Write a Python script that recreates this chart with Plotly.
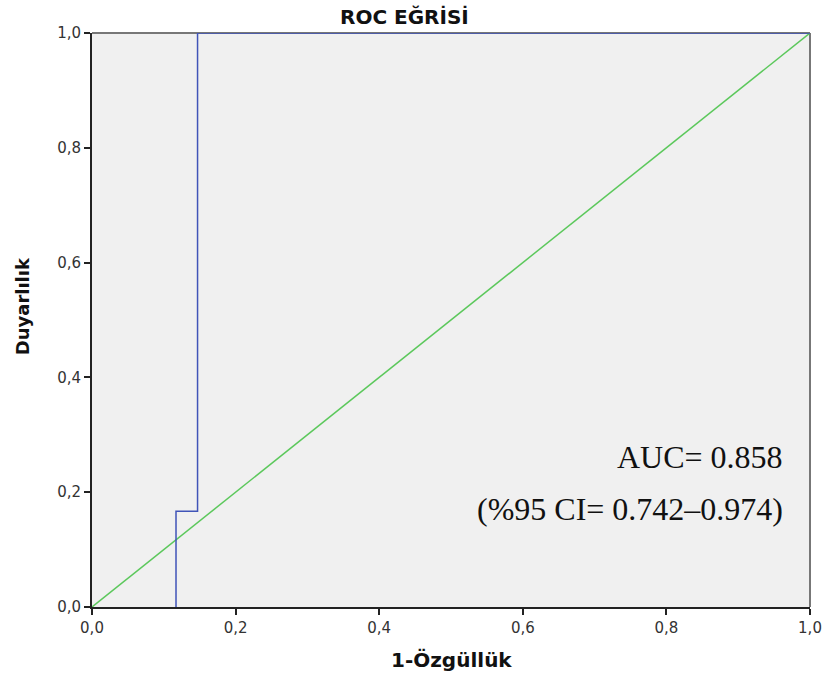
import plotly.graph_objects as go

# ROC curve points (1-specificity, sensitivity)
roc_x = [0.117, 0.117, 0.147, 0.147, 1.0]
roc_y = [0.0, 0.167, 0.167, 1.0, 1.0]
ref_x = [0.0, 1.0]
ref_y = [0.0, 1.0]
tick_vals = [0.0, 0.2, 0.4, 0.6, 0.8, 1.0]
tick_text = ["0,0", "0,2", "0,4", "0,6", "0,8", "1,0"]
auc_text = "AUC= 0.858"
ci_text = "(%95 CI= 0.742–0.974)"

fig = go.Figure()
fig.add_trace(go.Scatter(x=ref_x, y=ref_y, mode="lines",
                         line=dict(color="#5cc85c", width=1.5), showlegend=False))
fig.add_trace(go.Scatter(x=roc_x, y=roc_y, mode="lines",
                         line=dict(color="#4054b8", width=1.5), showlegend=False))

fig.update_layout(
    width=826, height=676,
    margin=dict(l=92, r=16, t=33, b=69),
    paper_bgcolor="white",
    plot_bgcolor="#f0f0f0",
    font=dict(family="DejaVu Sans, Liberation Sans, Arial", color="#222"),
    showlegend=False,
)
fig.update_xaxes(range=[0, 1], tickvals=tick_vals, ticktext=tick_text, automargin=False,
                 showgrid=False, zeroline=False, showline=True, linecolor="#222", linewidth=2,
                 ticks="outside", ticklen=6, tickwidth=2, tickcolor="#222",
                 tickfont=dict(size=15, color="#333"))
fig.update_yaxes(range=[0, 1], tickvals=tick_vals, ticktext=tick_text, automargin=False,
                 showgrid=False, zeroline=False, showline=True, linecolor="#222", linewidth=2,
                 ticks="outside", ticklen=6, tickwidth=2, tickcolor="#222",
                 tickfont=dict(size=15, color="#333"))

# top and right frame lines
fig.add_shape(type="line", xref="paper", yref="paper", x0=0, x1=1, y0=1, y1=1,
              line=dict(color="#777777", width=2), layer="below")
fig.add_shape(type="line", xref="paper", yref="paper", x0=1, x1=1, y0=0, y1=1,
              line=dict(color="#777777", width=2), layer="below")

# titles as text annotations
fig.add_annotation(text="<b>ROC EĞRİSİ</b>", xref="paper", yref="paper",
                   x=(404 - 92) / 718, y=(606.5 - 17) / 573.5, showarrow=False,
                   xanchor="center", yanchor="middle",
                   font=dict(family="DejaVu Sans", size=20, color="#111"))
fig.add_annotation(text="<b>1-Özgüllük</b>", xref="paper", yref="paper",
                   x=(451 - 92) / 718, y=(606.5 - 659) / 573.5, showarrow=False,
                   xanchor="center", yanchor="middle",
                   font=dict(family="DejaVu Sans", size=20, color="#111"))
fig.add_annotation(text="<b>Duyarlılık</b>", xref="paper", yref="paper",
                   x=(22 - 92) / 718, y=(606.5 - 306) / 573.5, showarrow=False,
                   xanchor="center", yanchor="middle", textangle=-90,
                   font=dict(family="DejaVu Sans", size=18, color="#111"))

fig.add_annotation(x=0.9645, y=0.2607, xref="x", yref="y", text=auc_text, showarrow=False,
                   xanchor="right", yanchor="middle",
                   font=dict(family="Liberation Serif, Times New Roman", size=32, color="#111"))
fig.add_annotation(x=0.9645, y=0.170, xref="x", yref="y", text=ci_text, showarrow=False,
                   xanchor="right", yanchor="middle",
                   font=dict(family="Liberation Serif, Times New Roman", size=32, color="#111"))

fig.write_html("out.html", config={"displayModeBar": False},
               post_script="document.body.style.margin='0px';")
